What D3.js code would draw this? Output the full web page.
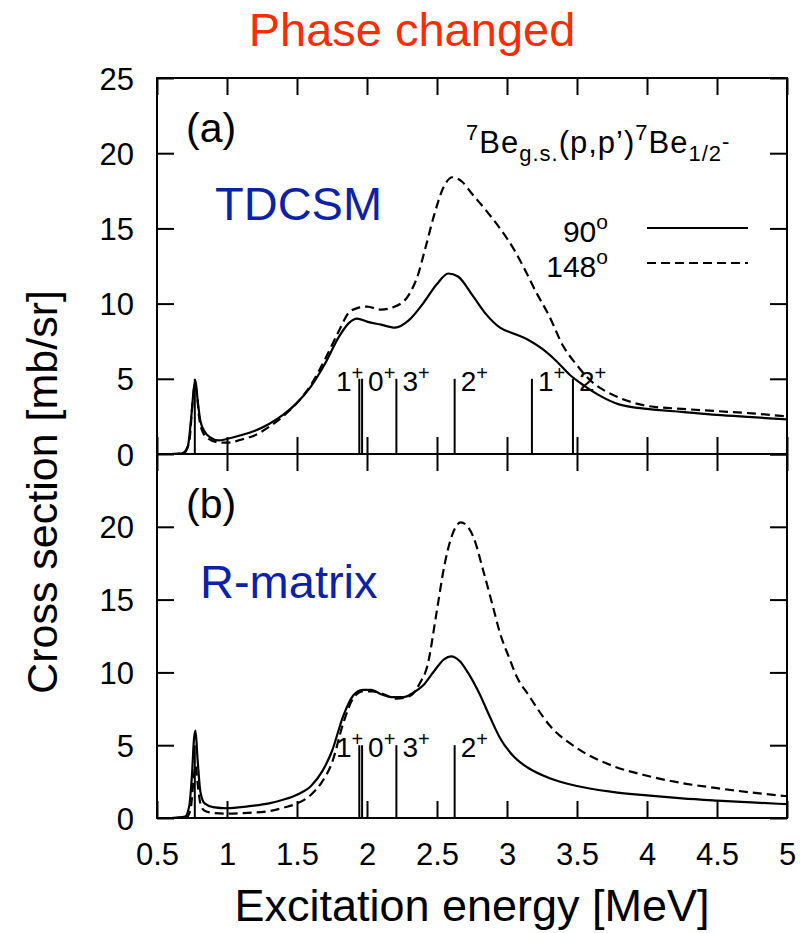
<!DOCTYPE html>
<html>
<head>
<meta charset="utf-8">
<script src="https://cdn.jsdelivr.net/npm/d3@7"></script>
<style>
  body { margin: 0; background: #fff; }
  text { font-family: "Liberation Sans", Arial, Helvetica, sans-serif; fill: #000; }
</style>
</head>
<body>
<svg id="chart" width="811" height="933"></svg>
<script>
// ---- data ----
const xTicks = [0.5, 1, 1.5, 2, 2.5, 3, 3.5, 4, 4.5, 5];
const yTicksA = [0, 5, 10, 15, 20, 25];
const yTicksB = [0, 5, 10, 15, 20];

// (a) TDCSM, 90 deg (solid)
const tdcsm90E = [0.60,0.68,0.72,0.745,0.765,0.775,0.79,0.81,0.84,0.88,0.94,1.00,1.10,1.20,1.30,1.40,1.50,1.60,1.70,1.80,1.87,1.93,2.00,2.10,2.20,2.30,2.40,2.50,2.58,2.65,2.75,2.85,2.95,3.05,3.15,3.25,3.35,3.45,3.55,3.65,3.80,4.00,4.25,4.50,4.75,5.00];
const tdcsm90 = [0.00,0.05,0.5,2.5,4.5,4.9,3.6,2.2,1.5,1.1,0.9,1.0,1.25,1.55,2.0,2.6,3.4,4.5,6.0,7.8,8.7,9.0,8.8,8.6,8.4,8.9,10.0,11.3,12.0,11.8,10.6,9.3,8.4,8.0,7.6,7.0,6.2,5.25,4.55,3.95,3.3,3.0,2.8,2.6,2.45,2.3];

// (a) TDCSM, 148 deg (dashed)
const tdcsm148E = [0.60,0.69,0.73,0.755,0.77,0.785,0.80,0.83,0.87,0.92,1.00,1.10,1.20,1.30,1.40,1.50,1.60,1.70,1.80,1.87,1.93,2.00,2.10,2.20,2.30,2.36,2.42,2.48,2.54,2.61,2.68,2.75,2.85,2.95,3.05,3.12,3.20,3.30,3.40,3.50,3.60,3.70,3.80,4.00,4.25,4.50,4.75,5.00];
const tdcsm148 = [0.0,0.05,0.8,3.5,4.6,4.0,2.5,1.4,1.0,0.8,0.75,0.95,1.25,1.8,2.5,3.4,4.6,6.3,8.2,9.4,9.7,9.8,9.6,9.8,10.6,11.8,13.8,15.9,17.6,18.4,18.1,17.3,16.2,15.0,13.6,12.4,10.9,9.2,7.2,5.9,4.85,4.2,3.75,3.2,3.0,2.85,2.7,2.5];

// (b) R-matrix, 90 deg (solid)
const rmat90E = [0.60,0.70,0.73,0.75,0.765,0.775,0.79,0.81,0.84,0.90,1.00,1.15,1.30,1.40,1.50,1.60,1.68,1.75,1.83,1.90,1.97,2.03,2.10,2.17,2.26,2.33,2.40,2.48,2.55,2.60,2.66,2.72,2.80,2.88,2.95,3.05,3.15,3.30,3.50,3.75,4.00,4.25,4.50,4.75,5.00];
const rmat90 = [0.0,0.1,0.8,3.0,5.5,6.0,4.0,1.8,1.0,0.75,0.67,0.8,1.0,1.25,1.6,2.2,3.2,4.6,7.0,8.4,8.8,8.8,8.5,8.3,8.3,8.6,9.1,10.1,10.9,11.1,10.8,10.0,8.6,6.9,5.5,4.2,3.45,2.75,2.2,1.8,1.55,1.35,1.2,1.07,0.95];

// (b) R-matrix, 148 deg (dashed)
const rmat148E = [0.60,0.71,0.74,0.76,0.775,0.79,0.81,0.84,0.90,1.00,1.15,1.29,1.40,1.50,1.60,1.68,1.75,1.83,1.90,1.97,2.04,2.12,2.21,2.31,2.38,2.43,2.50,2.55,2.60,2.67,2.72,2.76,2.83,2.90,2.95,3.02,3.07,3.15,3.31,3.50,3.75,4.00,4.25,4.50,4.75,5.00];
const rmat148 = [0.0,0.05,0.6,2.5,3.6,2.4,1.0,0.5,0.35,0.3,0.35,0.45,0.7,1.0,1.6,2.5,3.8,6.5,8.2,8.7,8.7,8.5,8.2,8.4,9.3,10.4,14.3,17.2,19.2,20.3,20.0,19.3,17.0,14.5,12.7,10.9,9.7,8.5,6.3,4.8,3.6,2.9,2.4,2.05,1.75,1.5];

// level energies (MeV), spins (all positive parity), bar height in mb/sr
const levelsA = [0.77, 1.945, 1.965, 2.21, 2.626, 3.178, 3.471];
const spinsA = ["", "1", "0", "3", "2", "1", "2"];
const levelsB = [0.77, 1.945, 1.965, 2.21, 2.626];
const spinsB = ["", "1", "0", "3", "2"];
const levelHeight = 5;

// ---- layout ----
const svg = d3.select("#chart");
const left = 157, right = 787;
const x = d3.scaleLinear().domain([0.5, 5]).range([left, right]);
const yA = d3.scaleLinear().domain([0, 25]).range([454, 78]);
const yB = d3.scaleLinear().domain([0, 25]).range([818, 454]);
const tick = 17;
const fmt = d3.format("~g");

function toPoints(es, vs) { return es.map((e, i) => [e, vs[i]]); }

function panel(y, yTicks, showXLabels) {
  const g = svg.append("g");
  const [y0, y1] = y.range();

  const styleAxis = a => {
    a.select(".domain").remove();
    a.selectAll(".tick line").attr("stroke", "#000").attr("stroke-width", 2);
    a.selectAll("text").attr("font-size", 31).attr("fill", "#000")
      .style("font-family", '"Liberation Sans", Arial, sans-serif');
  };

  g.append("g").attr("transform", `translate(${left},0)`)
    .call(d3.axisLeft(y).tickValues(yTicks).tickSize(-tick).tickPadding(23).tickFormat(fmt))
    .call(styleAxis);
  g.append("g").attr("transform", `translate(${right},0)`)
    .call(d3.axisRight(y).tickValues(yTicksA).tickSize(-tick).tickFormat(""))
    .call(styleAxis);
  g.append("g").attr("transform", `translate(0,${y1})`)
    .call(d3.axisTop(x).tickValues(xTicks).tickSize(-tick).tickFormat(""))
    .call(styleAxis);
  g.append("g").attr("transform", `translate(0,${y0})`)
    .call(d3.axisBottom(x).tickValues(xTicks).tickSize(-tick).tickPadding(25)
      .tickFormat(showXLabels ? fmt : ""))
    .call(styleAxis);
  g.selectAll(".tick text").each(function() {
    const t = d3.select(this);
    if (t.attr("y") !== null && +t.attr("y") > 0) t.attr("dy", "0.71em");
    else t.attr("dy", "0.36em");
  });

  g.append("rect")
    .attr("x", left).attr("y", y1)
    .attr("width", right - left).attr("height", y0 - y1)
    .attr("fill", "none").attr("stroke", "#000").attr("stroke-width", 2);
  return g;
}

function curves(g, y, solidE, solidV, dashE, dashV) {
  const line = d3.line().x(d => x(d[0])).y(d => y(d[1])).curve(d3.curveMonotoneX);
  g.append("path").datum(toPoints(dashE, dashV))
    .attr("d", line).attr("fill", "none").attr("stroke", "#000")
    .attr("stroke-width", 2.2).attr("stroke-dasharray", "9,5");
  g.append("path").datum(toPoints(solidE, solidV))
    .attr("d", line).attr("fill", "none").attr("stroke", "#000")
    .attr("stroke-width", 2.2);
}

function levels(g, y, es, spins) {
  g.selectAll(null).data(es).join("line")
    .attr("x1", d => x(d)).attr("x2", d => x(d))
    .attr("y1", y(0)).attr("y2", y(levelHeight))
    .attr("stroke", "#000").attr("stroke-width", 2);
  es.forEach((e, i) => {
    if (!spins[i]) return;
    // a level with a close neighbour above gets its label on the left
    const crowded = i + 1 < es.length && es[i + 1] - e < 0.05;
    const t = g.append("text")
      .attr("x", crowded ? x(e) + 4 : x(e) + 6)
      .attr("y", y(levelHeight) + 12)
      .attr("text-anchor", crowded ? "end" : "start")
      .attr("font-size", 28);
    t.append("tspan").text(spins[i]);
    t.append("tspan").attr("font-size", 20).attr("dy", -11).text("+");
  });
}

// ---- panel (a) ----
const gA = panel(yA, yTicksA, false);
levels(gA, yA, levelsA, spinsA);
curves(gA, yA, tdcsm90E, tdcsm90, tdcsm148E, tdcsm148);

// ---- panel (b) ----
const gB = panel(yB, yTicksB, true);
levels(gB, yB, levelsB, spinsB);
curves(gB, yB, rmat90E, rmat90, rmat148E, rmat148);

// panel tags and model names
svg.append("text").attr("x", 186).attr("y", 142).attr("font-size", 41).text("(a)");
svg.append("text").attr("x", 186).attr("y", 518).attr("font-size", 41).text("(b)");
svg.append("text").attr("x", 215).attr("y", 220).attr("font-size", 47)
  .style("fill", "#0c22a6").text("TDCSM");
svg.append("text").attr("x", 200).attr("y", 598).attr("font-size", 47)
  .style("fill", "#0c22a6").text("R-matrix");

// reaction label
const rx = svg.append("text").attr("x", 466).attr("y", 153).attr("font-size", 31)
  .attr("letter-spacing", 1);
rx.append("tspan").attr("font-size", 22).attr("dy", -13).text("7");
rx.append("tspan").attr("dy", 13).text("Be");
rx.append("tspan").attr("font-size", 22).attr("dy", 8).text("g.s.");
rx.append("tspan").attr("dy", -8).text("(p,p’)");
rx.append("tspan").attr("font-size", 22).attr("dy", -13).text("7");
rx.append("tspan").attr("dy", 13).text("Be");
rx.append("tspan").attr("font-size", 22).attr("dy", 8).text("1/2");
rx.append("tspan").attr("font-size", 22).attr("dy", -12).text("-");

// legend
const legend = [{ name: "90", dash: null, y: 228 }, { name: "148", dash: "9,5", y: 263 }];
legend.forEach(l => {
  const t = svg.append("text").attr("x", 608).attr("y", l.y + 14)
    .attr("text-anchor", "end").attr("font-size", 30);
  t.append("tspan").text(l.name);
  t.append("tspan").attr("font-size", 21).attr("dy", -13).text("o");
  svg.append("line").attr("x1", 647).attr("x2", 748).attr("y1", l.y).attr("y2", l.y)
    .attr("stroke", "#000").attr("stroke-width", 2.2)
    .attr("stroke-dasharray", l.dash);
});

// titles
svg.append("text").attr("x", 412).attr("y", 46).attr("text-anchor", "middle")
  .attr("font-size", 47).style("fill", "#fe2c00").text("Phase changed");
svg.append("text").attr("x", (left + right) / 2).attr("y", 921).attr("text-anchor", "middle")
  .attr("font-size", 45).text("Excitation energy [MeV]");
svg.append("text").attr("transform", "translate(57,492) rotate(-90)")
  .attr("text-anchor", "middle").attr("font-size", 43).text("Cross section [mb/sr]");
</script>
</body>
</html>
